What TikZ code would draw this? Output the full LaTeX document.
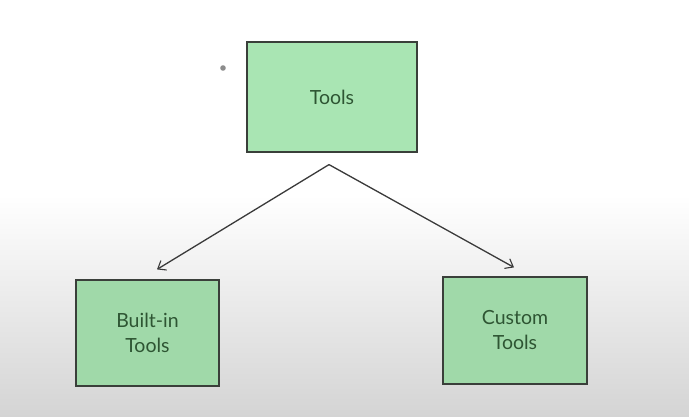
\documentclass[tikz,border=0pt]{standalone}
\usepackage{fontspec}
\setmainfont{Lato}
\usetikzlibrary{arrows.meta,calc}
\definecolor{boxtop}{HTML}{A9E5B3}
\definecolor{boxlow}{HTML}{A0D9A9}
\definecolor{boxline}{HTML}{3A3F3A}
\definecolor{txt}{HTML}{2E5533}
\definecolor{arrowc}{HTML}{3A3A3A}
\definecolor{bgbot}{HTML}{D4D4D4}
\begin{document}
\begin{tikzpicture}[x=1pt,y=-1pt,
  box/.style={draw=boxline,line width=1.2pt,rectangle,minimum width=#1,
    text=txt,font=\fontsize{19.5}{25}\selectfont,align=center,inner sep=0pt},
  conn/.style={draw=arrowc,line width=1.3pt,-{Straight Barb[length=7pt,width=11pt,line width=1.1pt]}}]
\useasboundingbox (0,0) rectangle (689,417);
\fill[white] (0,0) rectangle (689,196);
\shade[top color=white,bottom color=bgbot] (0,195) rectangle (689,417);
\fill[gray!90] (223,68) circle (2.8pt);
\node[box=170pt,fill=boxtop,minimum height=110pt] (tools) at (332,97) {Tools};
\node[box=143pt,fill=boxlow,minimum height=106pt] (builtin) at (147.5,333) {Built-in\\Tools};
\node[box=144pt,fill=boxlow,minimum height=107pt] (custom) at (515,330.5) {Custom\\Tools};
\coordinate (split) at ($(tools.south)+(-3,12)$);
\coordinate (lefttip) at ($(builtin.north)+(9.5,-10)$);
\coordinate (righttip) at ($(custom.north)+(-1,-9)$);
\draw[conn] (split) -- (lefttip);
\draw[conn] (split) -- (righttip);
\end{tikzpicture}
\end{document}
